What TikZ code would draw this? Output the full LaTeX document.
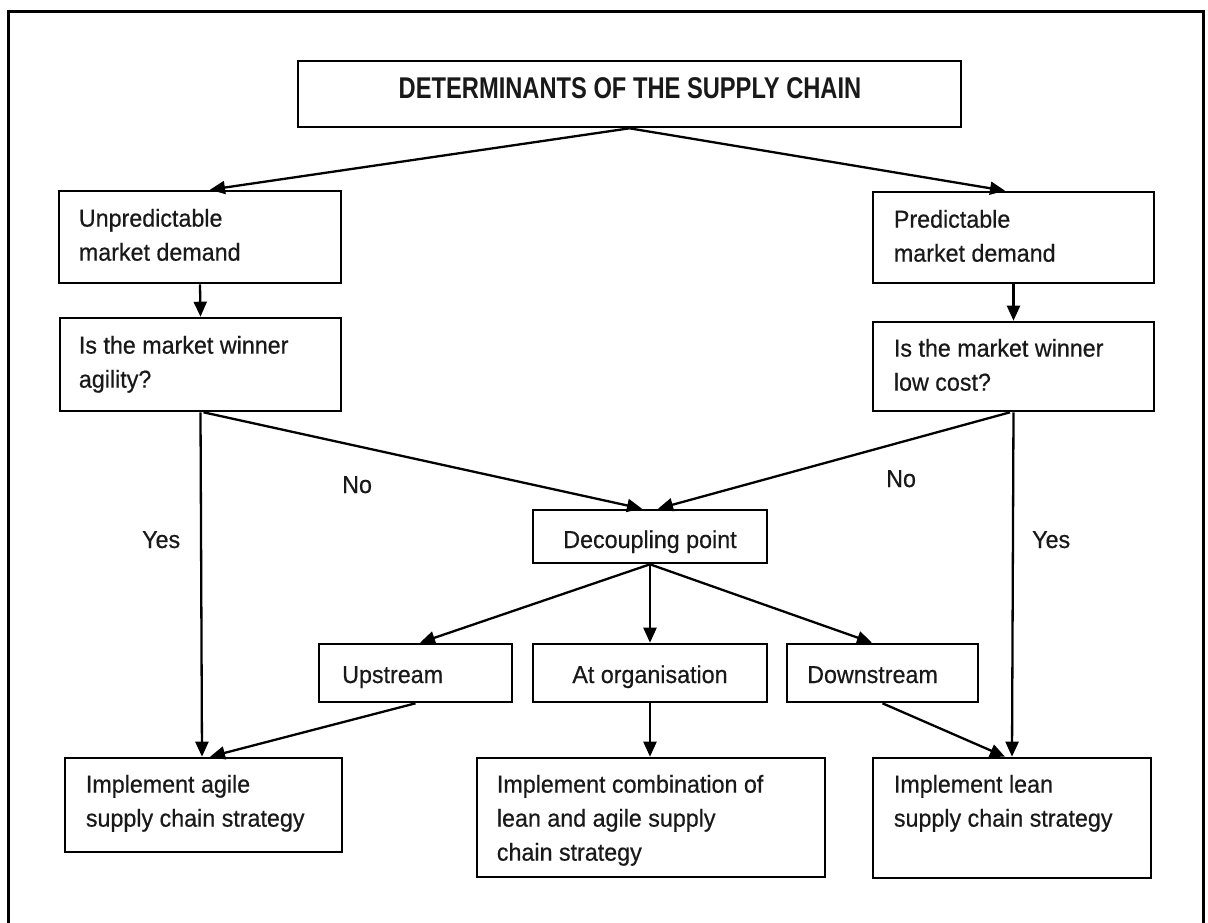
\documentclass[tikz,border=0pt]{standalone}
\usepackage{fontspec}
\setmainfont{Liberation Sans}[FakeStretch=0.95,FakeBold=0.5]
\newfontfamily\titlefont{Liberation Sans Bold}[FakeStretch=0.79]
\usetikzlibrary{arrows.meta,calc}
\begin{document}
\begin{tikzpicture}[x=1pt,y=-1pt,
  box/.style={draw,line width=2.6pt,inner sep=0pt,rectangle},
  txt/.style={inner sep=0pt,text=black!90,font=\fontsize{24.5}{34}\selectfont},
  ttxt/.style={inner sep=0pt,text=black!90,font=\titlefont\fontsize{30}{34}\selectfont},
  mtxt/.style={txt,align=left,anchor=north west},
  conn/.style={line width=2.3pt,-{Triangle[length=15pt,width=13pt]}},
  frame/.style={line width=3.8pt}]
\useasboundingbox (0,0) rectangle (1208,922);
\clip (0,0) rectangle (1208,922);
\fill[white] (0,0) rectangle (1208,922);
\draw[frame] (8.5,940) -- (8.5,11.5) -- (1203.5,11.5) -- (1203.5,940);

% boxes
\node[box,minimum width=663pt,minimum height=66pt] (top) at (629.5,94) {};
\node[box,minimum width=282pt,minimum height=92pt] (unp) at (200,237) {};
\node[box,minimum width=281pt,minimum height=91pt] (pred) at (1013.5,237.5) {};
\node[box,minimum width=281pt,minimum height=93pt] (agil) at (200.5,364.5) {};
\node[box,minimum width=281pt,minimum height=89pt] (cost) at (1013.5,366.5) {};
\node[box,minimum width=234pt,minimum height=53pt] (dec) at (650,536.5) {};
\node[box,minimum width=193pt,minimum height=58pt] (up) at (415.5,673) {};
\node[box,minimum width=234pt,minimum height=58pt] (org) at (650,673) {};
\node[box,minimum width=191pt,minimum height=58pt] (down) at (882.5,673) {};
\node[box,minimum width=277pt,minimum height=94pt] (agile) at (203.5,805) {};
\node[box,minimum width=348pt,minimum height=119pt] (comb) at (651,817.5) {};
\node[box,minimum width=278pt,minimum height=120pt] (lean) at (1012,818) {};

% texts
\node[ttxt,anchor=base] (topT) at (630,98) {DETERMINANTS OF THE SUPPLY CHAIN};
\node[mtxt] (unpT) at ($(unp.north west)+(21,19)$) {Unpredictable\\market demand};
\node[mtxt] (predT) at ($(pred.north west)+(22,19)$) {Predictable\\market demand};
\node[mtxt] (agilT) at ($(agil.north west)+(20,19)$) {Is the market winner\\agility?};
\node[mtxt] (costT) at ($(cost.north west)+(22,18)$) {Is the market winner\\low cost?};
\node[txt,anchor=base] (decT) at (650,548) {Decoupling point};
\node[txt,anchor=base west] (upT) at (342,683) {Upstream};
\node[txt,anchor=base] (orgT) at (650,683) {At organisation};
\node[txt,anchor=base west] (downT) at (807,683) {Downstream};
\node[mtxt] (agileT) at ($(agile.north west)+(22,18)$) {Implement agile\\supply chain strategy};
\node[mtxt] (combT) at ($(comb.north west)+(21,18)$) {Implement combination of\\lean and agile supply\\chain strategy};
\node[mtxt] (leanT) at ($(lean.north west)+(22,18)$) {Implement lean\\supply chain strategy};

% branch labels
\node[txt,anchor=base west] (yes1) at (142,548) {Yes};
\node[txt,anchor=base west] (no1) at (342,493) {No};
\node[txt,anchor=base west] (no2) at (886,487) {No};
\node[txt,anchor=base west] (yes2) at (1032,548) {Yes};

% connectors
\draw[conn] (top.south) -- ([xshift=10pt]unp.north);
\draw[conn] (top.south) -- ([xshift=-8.5pt]pred.north);
\draw[conn] (unp.south) -- (agil.north);
\draw[conn] (pred.south) -- (cost.north);
\draw[conn] (agil.south) -- ([xshift=-1.5pt]agile.north);
\draw[conn] ([xshift=3pt]agil.south) -- ([xshift=-8pt]dec.north);
\draw[conn] ([xshift=-3.5pt]cost.south) -- ([xshift=8pt]dec.north);
\draw[conn] (cost.south) -- (lean.north);
\draw[conn] (dec.south) -- ([xshift=4.5pt]up.north);
\draw[conn] (dec.south) -- (org.north);
\draw[conn] (dec.south) -- ([xshift=-10.5pt]down.north);
\draw[conn] (org.south) -- ([xshift=-1pt]comb.north);
\draw[conn] (up.south) -- ([xshift=6.5pt]agile.north);
\draw[conn] (down.south) -- ([xshift=-7pt]lean.north);
\end{tikzpicture}
\end{document}
